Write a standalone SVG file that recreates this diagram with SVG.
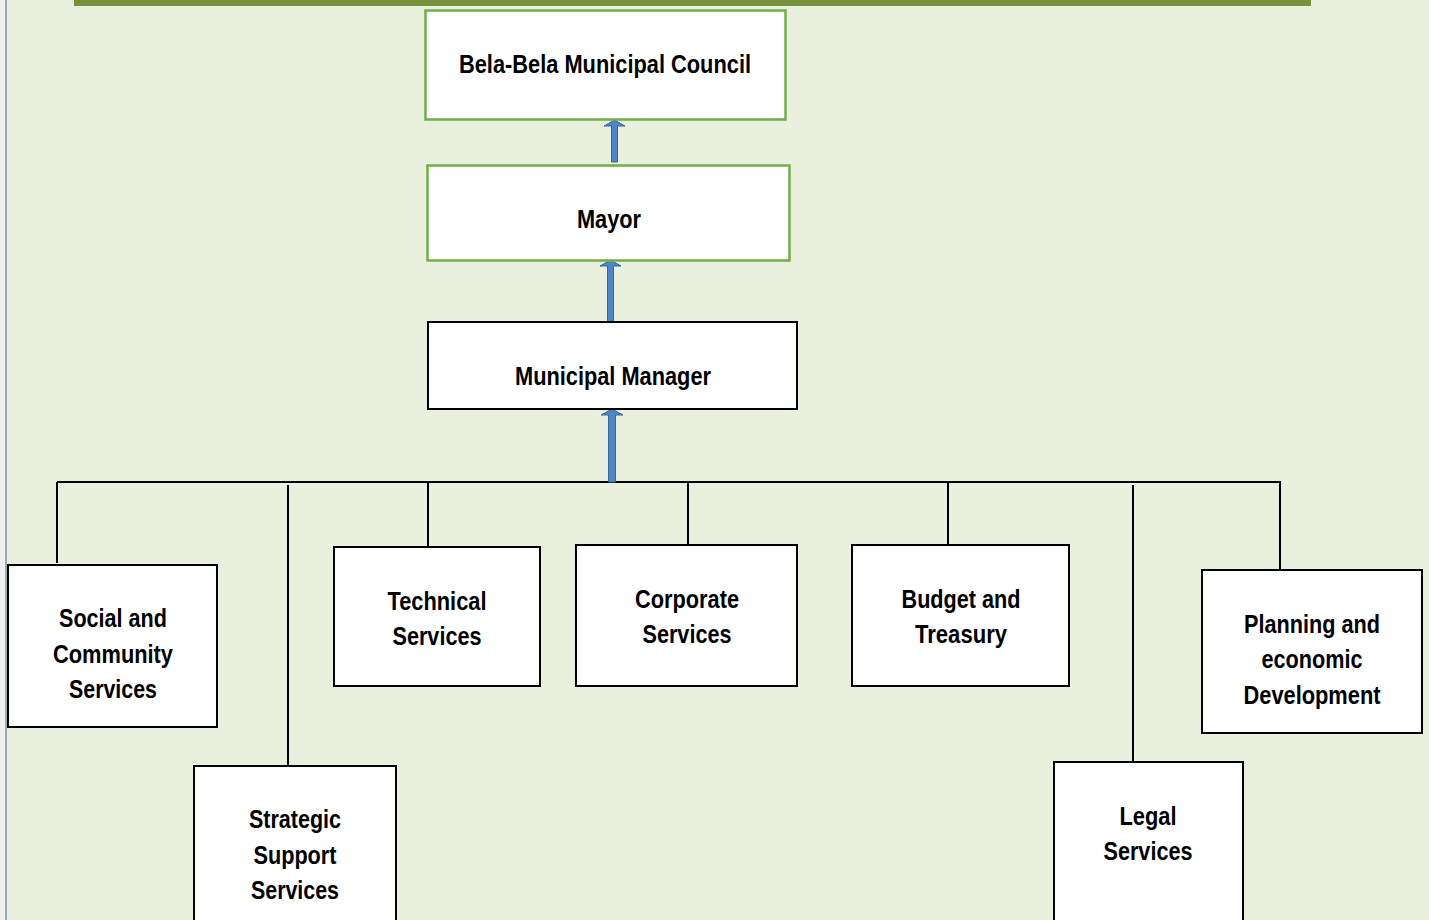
<svg xmlns="http://www.w3.org/2000/svg" width="1429" height="920" viewBox="0 0 1429 920">
<defs>
<style>
.bg{fill:#E9F1DE}
.gbox{fill:#fff;stroke:#72AD47;stroke-width:2.5}
.kbox{fill:#fff;stroke:#000;stroke-width:2}
.t{font-family:"Liberation Sans Narrow","Arial Narrow","Liberation Sans",sans-serif;font-weight:bold;font-size:25px;fill:#000;text-anchor:middle}
.ln{stroke:#000;stroke-width:2;fill:none}
.arr{fill:#4F86C6;stroke:#3A679B;stroke-width:1}
</style>
</defs>
<rect x="0" y="0" width="1429" height="920" class="bg"/>
<rect x="0" y="0" width="6" height="920" fill="#F0F0F0"/>
<rect x="5" y="0" width="2" height="920" fill="#93ADB0"/>
<rect x="74" y="0" width="1237" height="6" fill="#76923C"/>
<g id="connectors">
<path class="ln" d="M57 482H1281"/>
<path class="ln" d="M57 482V563M288 485V766M428 482V547M688 482V545M948 482V545M1133 485V761M1280 482V570"/>
<path class="arr" d="M611.5 162V126H604L614.5 120L625 126H617.5V162Z"/>
<path class="arr" d="M607.5 322V266H600L610.5 260L621 266H613.5V322Z"/>
<path class="arr" d="M608.5 482V415H601L612 409L623 415H615.5V482Z"/>
</g>
<g id="council"><rect class="gbox" x="425.5" y="10.5" width="360" height="109"/><text class="t" x="605" y="73" textLength="292" lengthAdjust="spacingAndGlyphs">Bela-Bela Municipal Council</text></g>
<g id="mayor"><rect class="gbox" x="427.5" y="165.5" width="362" height="95"/><text class="t" x="609" y="228" textLength="64" lengthAdjust="spacingAndGlyphs">Mayor</text></g>
<g id="manager"><rect class="kbox" x="428" y="322" width="369" height="87"/><text class="t" x="613" y="385" textLength="196" lengthAdjust="spacingAndGlyphs">Municipal Manager</text></g>
<g id="social"><rect class="kbox" x="8" y="565" width="209" height="162"/><text class="t" x="113" y="627" textLength="108" lengthAdjust="spacingAndGlyphs">Social and</text><text class="t" x="113" y="663" textLength="120" lengthAdjust="spacingAndGlyphs">Community</text><text class="t" x="113" y="698" textLength="88" lengthAdjust="spacingAndGlyphs">Services</text></g>
<g id="strategic"><rect class="kbox" x="194" y="766" width="202" height="170"/><text class="t" x="295" y="828" textLength="92" lengthAdjust="spacingAndGlyphs">Strategic</text><text class="t" x="295" y="864" textLength="83" lengthAdjust="spacingAndGlyphs">Support</text><text class="t" x="295" y="899" textLength="88" lengthAdjust="spacingAndGlyphs">Services</text></g>
<g id="technical"><rect class="kbox" x="334" y="547" width="206" height="139"/><text class="t" x="437" y="610" textLength="99" lengthAdjust="spacingAndGlyphs">Technical</text><text class="t" x="437" y="645" textLength="89" lengthAdjust="spacingAndGlyphs">Services</text></g>
<g id="corporate"><rect class="kbox" x="576" y="545" width="221" height="141"/><text class="t" x="687" y="608" textLength="104" lengthAdjust="spacingAndGlyphs">Corporate</text><text class="t" x="687" y="643" textLength="89" lengthAdjust="spacingAndGlyphs">Services</text></g>
<g id="budget"><rect class="kbox" x="852" y="545" width="217" height="141"/><text class="t" x="961" y="608" textLength="119" lengthAdjust="spacingAndGlyphs">Budget and</text><text class="t" x="961" y="643" textLength="92" lengthAdjust="spacingAndGlyphs">Treasury</text></g>
<g id="legal"><rect class="kbox" x="1054" y="762" width="189" height="170"/><text class="t" x="1148" y="825" textLength="57" lengthAdjust="spacingAndGlyphs">Legal</text><text class="t" x="1148" y="860" textLength="89" lengthAdjust="spacingAndGlyphs">Services</text></g>
<g id="planning"><rect class="kbox" x="1202" y="570" width="220" height="163"/><text class="t" x="1312" y="633" textLength="136" lengthAdjust="spacingAndGlyphs">Planning and</text><text class="t" x="1312" y="668" textLength="101" lengthAdjust="spacingAndGlyphs">economic</text><text class="t" x="1312" y="704" textLength="137" lengthAdjust="spacingAndGlyphs">Development</text></g>
</svg>
